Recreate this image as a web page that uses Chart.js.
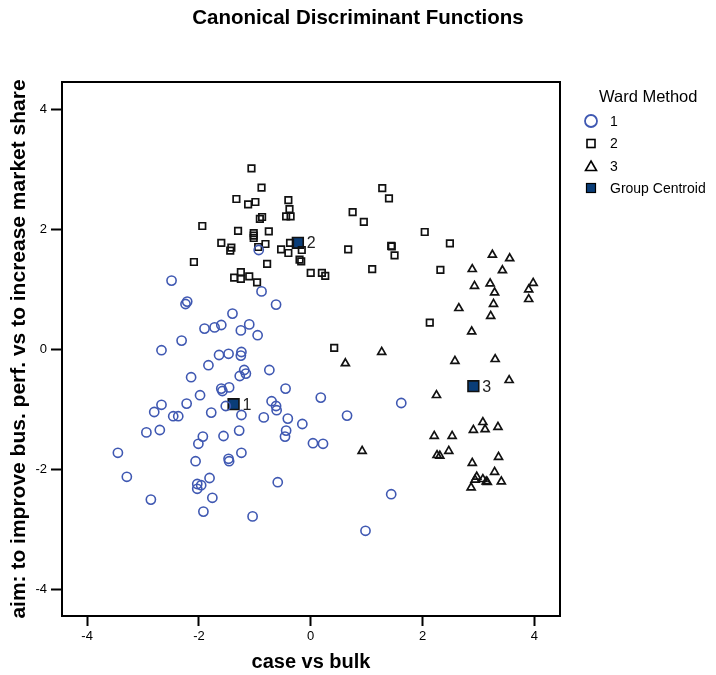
<!DOCTYPE html>
<html>
<head>
<meta charset="utf-8">
<script src="https://cdn.jsdelivr.net/npm/chart.js@4.4.1/dist/chart.umd.min.js"></script>
<style>
  html, body { margin: 0; padding: 0; background: #fff; }
  #wrap { width: 716px; height: 675px; }
</style>
</head>
<body>
<div id="wrap"><canvas id="chart" width="716" height="675"></canvas></div>
<script>
// Ward Method cluster 1 (circles)
let g1x = [-2.49, -0.93, -0.88, -0.62, -2.21, -2.24, -1.40, -1.90, -1.72, -1.60, -1.25, -1.10, -0.95, -2.31, -2.67,
    -1.64, -1.47, -1.24, -1.25, -1.83, -0.74, -1.19, -1.16, -1.27, -2.14, -1.60, -1.58, -1.46, -0.45, -1.98,
    -1.52, -0.70, -0.62, -0.61, 0.18, -2.67, -2.80, -2.22, -2.46, -2.37, -1.78, -1.24, -0.84, -0.41, -0.15,
    -2.94, -2.70, -1.93, -1.56, -1.28, -0.44, -0.46, -2.01, -3.45, -2.06, -1.47, -1.46, -1.24, 0.04, 0.22,
    -3.29, -2.03, -1.96, -2.03, -1.81, -2.86, -1.76, -1.92, -1.04, -0.59, 1.62, 0.65, 1.44, 0.98];
let g1y = [1.14, 1.65, 0.96, 0.74, 0.79, 0.75, 0.59, 0.34, 0.36, 0.40, 0.31, 0.41, 0.23, 0.14, -0.02,
    -0.10, -0.08, -0.05, -0.11, -0.27, -0.35, -0.35, -0.41, -0.45, -0.47, -0.66, -0.70, -0.64, -0.66, -0.77,
    -0.95, -0.87, -0.95, -1.02, -0.81, -0.93, -1.05, -0.91, -1.12, -1.12, -1.06, -1.10, -1.14, -1.16, -1.25,
    -1.39, -1.35, -1.46, -1.45, -1.36, -1.36, -1.46, -1.58, -1.73, -1.87, -1.83, -1.87, -1.73, -1.57, -1.58,
    -2.13, -2.25, -2.27, -2.33, -2.15, -2.51, -2.48, -2.71, -2.79, -2.22, -0.90, -1.11, -2.42, -3.03];

// cluster 2 (squares)
let g2x = [-1.06, -0.88, -1.33, -1.12, -0.99, -0.40, -0.38, -0.44, -0.36, -0.91, -0.87, -1.94, -1.30, -1.02, -1.02,
    -1.02, -0.75, -1.60, -1.42, -1.44, -0.81, -0.94, -0.53, -0.40, -0.37, -0.16, -0.20, -0.17, -2.09, -0.78,
    0.00, 0.20, 0.26, -1.25, -1.37, -1.25, -1.10, -0.96, 1.28, 1.40, 0.75, 0.95, 2.04, 2.49, 0.67,
    1.44, 1.45, 1.50, 1.10, 2.32, 2.13, 0.42];
let g2y = [3.01, 2.69, 2.50, 2.41, 2.45, 2.48, 2.33, 2.21, 2.21, 2.17, 2.20, 2.05, 1.97, 1.93, 1.89,
    1.85, 1.96, 1.77, 1.69, 1.64, 1.75, 1.70, 1.66, 1.60, 1.77, 1.65, 1.49, 1.46, 1.45, 1.42,
    1.27, 1.27, 1.22, 1.28, 1.19, 1.17, 1.21, 1.11, 2.68, 2.51, 2.28, 2.12, 1.95, 1.76, 1.66,
    1.72, 1.71, 1.56, 1.33, 1.32, 0.44, 0.02];

// cluster 3 (triangles)
let g3x = [2.89, 3.43, 2.93, 3.21, 3.29, 3.98, 3.90, 3.90, 3.27, 2.65, 3.22, 2.88, 1.27, 0.62, 2.58,
    3.30, 3.55, 2.25, 3.08, 2.91, 3.12, 3.35, 2.21, 2.53, 3.25, 3.56, 0.92, 2.26, 2.31, 2.47,
    2.89, 3.36, 3.29, 2.97, 2.94, 3.08, 3.14, 3.16, 2.87, 3.41];
let g3y = [1.33, 1.31, 1.05, 1.09, 0.94, 1.10, 0.99, 0.83, 0.75, 0.68, 0.55, 0.29, -0.05, -0.24, -0.20,
    -0.17, -0.52, -0.77, -1.22, -1.35, -1.34, -1.30, -1.45, -1.45, 1.57, 1.51, -1.70, -1.77, -1.78, -1.70,
    -1.90, -1.80, -2.05, -2.13, -2.18, -2.17, -2.21, -2.22, -2.31, -2.21];

// group centroids
let centroidLabels = ['1', '2', '3'];
let centroidX = [-1.38, -0.23, 2.91];
let centroidY = [-0.92, 1.77, -0.62];

let xTicks = [-4, -2, 0, 2, 4];
let yTicks = [-4, -2, 0, 2, 4];

let blue = 'rgb(63,88,178)';
let navy = 'rgb(10,61,120)';
let fontFamily = '"Liberation Sans", Arial, sans-serif';

function toPoints(xs, ys) {
    return xs.map((x, i) => ({x: x, y: ys[i]}));
}

// title centred on the whole page, and the box round the plot area
let framePlugin = {
    id: 'frame',
    afterDraw(chart) {
        let a = chart.chartArea;
        let ctx = chart.ctx;
        ctx.save();
        ctx.strokeStyle = '#000';
        ctx.lineWidth = 2;
        ctx.strokeRect(a.left, a.top, a.right - a.left, a.bottom - a.top);
        ctx.fillStyle = '#000';
        ctx.font = 'bold 20.5px ' + fontFamily;
        ctx.textAlign = 'center';
        ctx.textBaseline = 'middle';
        ctx.fillText('Canonical Discriminant Functions', 358, 18);
        ctx.restore();
    }
};

// number next to each centroid
let centroidLabelPlugin = {
    id: 'centroidLabels',
    afterDatasetsDraw(chart) {
        let meta = chart.getDatasetMeta(3);
        let ctx = chart.ctx;
        ctx.save();
        ctx.fillStyle = '#222';
        ctx.font = '16px ' + fontFamily;
        ctx.textBaseline = 'middle';
        ctx.textAlign = 'left';
        meta.data.forEach((pt, i) => {
            ctx.fillText(centroidLabels[i], pt.x + 9, pt.y + 1);
        });
        ctx.restore();
    }
};

// legend on the right
let legendPlugin = {
    id: 'wardLegend',
    afterDraw(chart) {
        let ctx = chart.ctx;
        let mx = 591;
        let tx = 610;
        ctx.save();
        ctx.fillStyle = '#000';
        ctx.textBaseline = 'middle';
        ctx.font = '16.5px ' + fontFamily;
        ctx.textAlign = 'left';
        ctx.fillText('Ward Method', 599, 97);

        ctx.font = '14px ' + fontFamily;
        // 1
        ctx.beginPath();
        ctx.strokeStyle = blue;
        ctx.lineWidth = 1.8;
        ctx.arc(mx, 121, 6, 0, Math.PI * 2);
        ctx.stroke();
        ctx.fillText('1', tx, 122);
        // 2
        ctx.strokeStyle = '#000';
        ctx.lineWidth = 1.6;
        ctx.strokeRect(mx - 4, 139.5, 8, 8);
        ctx.fillText('2', tx, 144);
        // 3
        ctx.beginPath();
        ctx.moveTo(mx, 161);
        ctx.lineTo(mx + 5.5, 170.5);
        ctx.lineTo(mx - 5.5, 170.5);
        ctx.closePath();
        ctx.stroke();
        ctx.fillText('3', tx, 167);
        // centroid
        ctx.fillStyle = navy;
        ctx.fillRect(mx - 4.5, 183.5, 9, 9);
        ctx.strokeStyle = '#000';
        ctx.lineWidth = 1.2;
        ctx.strokeRect(mx - 4.5, 183.5, 9, 9);
        ctx.fillStyle = '#000';
        ctx.fillText('Group Centroid', tx, 189);
        ctx.restore();
    }
};

let ctx = document.getElementById('chart').getContext('2d');
let chart = new Chart(ctx, {
    type: 'scatter',
    data: {
        datasets: [
            {
                label: '1',
                data: toPoints(g1x, g1y),
                pointStyle: 'circle',
                pointRadius: 4.6,
                pointBorderWidth: 1.6,
                pointBorderColor: blue,
                pointBackgroundColor: 'rgba(0,0,0,0)'
            },
            {
                label: '2',
                data: toPoints(g2x, g2y),
                pointStyle: 'rect',
                pointRadius: 4.6,
                pointBorderWidth: 1.7,
                pointBorderColor: '#111',
                pointBackgroundColor: 'rgba(0,0,0,0)'
            },
            {
                label: '3',
                data: toPoints(g3x, g3y),
                pointStyle: 'triangle',
                pointRadius: 4.6,
                pointBorderWidth: 1.7,
                pointBorderColor: '#111',
                pointBackgroundColor: 'rgba(0,0,0,0)'
            },
            {
                label: 'Group Centroid',
                data: toPoints(centroidX, centroidY),
                pointStyle: 'rect',
                pointRadius: 7.6,
                pointBorderWidth: 1.6,
                pointBorderColor: '#111',
                pointBackgroundColor: navy
            }
        ]
    },
    options: {
        responsive: false,
        animation: false,
        events: [],
        layout: {
            padding: {left: 4, right: 156, top: 82, bottom: 0}
        },
        plugins: {
            legend: {display: false},
            tooltip: {enabled: false},
            title: {display: false}
        },
        scales: {
            x: {
                type: 'linear',
                min: -4.45,
                max: 4.46,
                afterBuildTicks: (scale) => { scale.ticks = xTicks.map(v => ({value: v})); },
                afterFit: (scale) => { scale.height = 59; },
                ticks: {
                    color: '#000',
                    padding: 3,
                    font: {family: fontFamily, size: 13}
                },
                grid: {
                    drawOnChartArea: false,
                    drawTicks: true,
                    tickLength: 10,
                    tickWidth: 2,
                    tickColor: '#000',
                    color: '#000'
                },
                border: {display: true, color: '#000', width: 2},
                title: {
                    display: true,
                    text: 'case vs bulk',
                    color: '#000',
                    font: {family: fontFamily, size: 20, weight: 'bold', lineHeight: 1.2},
                    padding: {top: 0, bottom: 1}
                }
            },
            y: {
                type: 'linear',
                min: -4.45,
                max: 4.45,
                afterBuildTicks: (scale) => { scale.ticks = yTicks.map(v => ({value: v})); },
                afterFit: (scale) => { scale.width = 58; },
                ticks: {
                    color: '#000',
                    padding: 4,
                    font: {family: fontFamily, size: 13}
                },
                grid: {
                    drawOnChartArea: false,
                    drawTicks: true,
                    tickLength: 11,
                    tickWidth: 2,
                    tickColor: '#000',
                    color: '#000'
                },
                border: {display: true, color: '#000', width: 2},
                title: {
                    display: true,
                    text: 'aim: to improve bus. perf. vs to increase market share',
                    color: '#000',
                    font: {family: fontFamily, size: 21, weight: 'bold', lineHeight: 1.2},
                    padding: {top: 3, bottom: 0}
                }
            }
        }
    },
    plugins: [framePlugin, centroidLabelPlugin, legendPlugin]
});
</script>
</body>
</html>
